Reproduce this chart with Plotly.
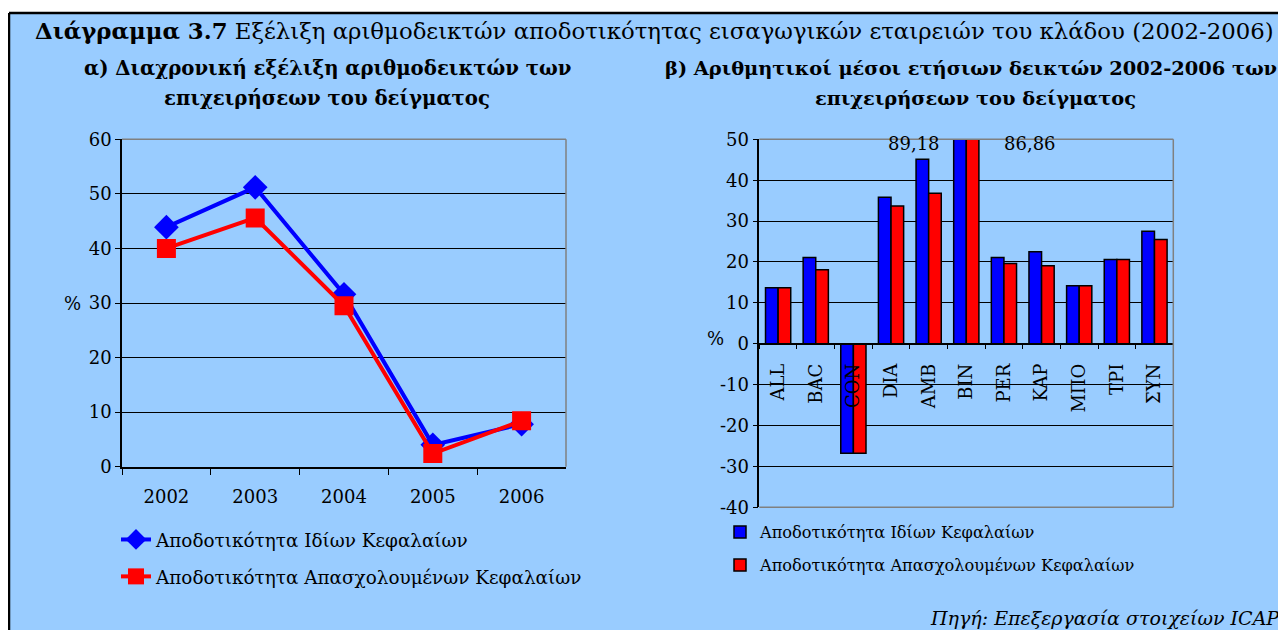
import plotly.graph_objects as go

# ---------- data ----------
years = ["2002", "2003", "2004", "2005", "2006"]
roe_years = [43.9, 51.2, 31.6, 4.0, 7.8]
roce_years = [40.0, 45.6, 29.5, 2.4, 8.4]

companies = ["ALL", "BAC", "CON", "DIA", "AMB", "BIN", "PER", "KAP", "ΜΠΟ", "ΤΡΙ", "ΣΥΝ"]
roe_avg = [13.7, 21.1, -26.8, 35.8, 45.1, 89.18, 21.1, 22.5, 14.2, 20.6, 27.5]
roce_avg = [13.7, 18.1, -26.8, 33.7, 36.8, 86.86, 19.6, 19.1, 14.2, 20.6, 25.5]

left_ticks = [0, 10, 20, 30, 40, 50, 60]
right_ticks = [-40, -30, -20, -10, 0, 10, 20, 30, 40, 50]
right_tick_text = ["-40", "-30", "-20", "-10", "0", "10", "20", "30", "40", "50"]

name_roe = "Αποδοτικότητα Ιδίων Κεφαλαίων"
name_roce = "Αποδοτικότητα Απασχολουμένων Κεφαλαίων"

# page body has an 8px margin: figure is sized to fill the rest of the window
OFF = 8
W, H = 1286 - OFF, 630 - OFF
FONT = "DejaVu Serif"
BG = "#99CCFF"
PLOT_BG = "#C0C0C0"
BLUE = "#0000FF"
RED = "#FF0000"


def px(x):
    return (x - OFF) / W


def py(y):
    return 1 - (y - OFF) / H


fig = go.Figure()

# ---------- left chart: lines ----------
fig.add_trace(go.Scatter(
    x=years, y=roe_years, name=name_roe, mode="lines+markers",
    line=dict(color=BLUE, width=4),
    marker=dict(symbol="diamond", size=19, color=BLUE),
    xaxis="x", yaxis="y", legend="legend", legendgroup="a1",
))
fig.add_trace(go.Scatter(
    x=years, y=roce_years, name=name_roce, mode="lines+markers",
    line=dict(color=RED, width=4),
    marker=dict(symbol="square", size=19, color=RED),
    xaxis="x", yaxis="y", legend="legend", legendgroup="a2",
))

# ---------- right chart: bars ----------
fig.add_trace(go.Bar(
    x=companies, y=roe_avg, name=name_roe,
    marker=dict(color=BLUE, line=dict(color="black", width=1.5)),
    xaxis="x2", yaxis="y2", legend="legend2", legendgroup="b1",
))
fig.add_trace(go.Bar(
    x=companies, y=roce_avg, name=name_roce,
    marker=dict(color=RED, line=dict(color="black", width=1.5)),
    xaxis="x2", yaxis="y2", legend="legend2", legendgroup="b2",
))

# axis domains (pixel measured on the reference)
lx0, lx1, ly_top, ly_bot = 122, 566, 139.3, 466.7
rx0, rx1, ry_top, ry_bot = 759.3, 1173.3, 139.3, 507.3
r_zero = ry_top + (ry_bot - ry_top) * 50 / 90

tickfont = dict(family=FONT, size=18, color="black")

fig.update_layout(
    template="none",
    width=W, height=H,
    margin=dict(l=0, r=0, t=0, b=0, autoexpand=False),
    paper_bgcolor="white",
    plot_bgcolor=PLOT_BG,
    font=dict(family=FONT, color="black"),
    barmode="group", bargap=0.33, bargroupgap=0,
    showlegend=True,
    xaxis=dict(
        domain=[px(lx0), px(lx1)], anchor="y", type="category", automargin=False,
        tickson="boundaries", ticks="outside", ticklen=7, tickcolor="black",
        showline=True, linecolor="black", linewidth=1.5,
        showgrid=False, tickfont=tickfont, ticklabelstandoff=13,
        range=[-0.5, 4.5],
    ),
    yaxis=dict(
        domain=[py(ly_bot), py(ly_top)], anchor="x", automargin=False,
        range=[0, 60], tickvals=left_ticks,
        ticks="outside", ticklen=5, tickcolor="black",
        showline=True, linecolor="black", linewidth=1.5,
        showgrid=True, gridcolor="black", gridwidth=1,
        zeroline=False, tickfont=tickfont,
    ),
    xaxis2=dict(
        domain=[px(rx0), px(rx1)], anchor="free", position=py(r_zero), automargin=False,
        type="category", tickson="boundaries", ticks="outside", ticklen=5,
        tickcolor="black", showline=True, linecolor="black", linewidth=1.5,
        showgrid=False, tickangle=-90, tickfont=tickfont, ticklabelstandoff=12,
        range=[-0.5, 10.5],
    ),
    yaxis2=dict(
        domain=[py(ry_bot), py(ry_top)], anchor="x2", automargin=False,
        range=[-40, 50], tickvals=right_ticks, ticktext=right_tick_text,
        ticks="outside", ticklen=5, tickcolor="black",
        showline=True, linecolor="black", linewidth=1.5,
        showgrid=True, gridcolor="black", gridwidth=1,
        zeroline=False, tickfont=tickfont,
    ),
    legend=dict(
        x=px(116), y=py(521), xanchor="left", yanchor="top",
        bgcolor="rgba(0,0,0,0)", font=dict(family=FONT, size=18.4, color="black"),
        traceorder="grouped", tracegroupgap=10,
    ),
    legend2=dict(
        x=px(720), y=py(515), xanchor="left", yanchor="top",
        bgcolor="rgba(0,0,0,0)", font=dict(family=FONT, size=16.2, color="black"),
        traceorder="grouped", tracegroupgap=9,
    ),
)

# ---------- background panel & borders ----------
shapes = [
    dict(type="rect", xref="paper", yref="paper", x0=px(9), x1=px(1283), y0=py(640), y1=py(13),
         fillcolor=BG, line=dict(width=0), layer="below"),
    dict(type="line", xref="paper", yref="paper", x0=px(9), x1=px(9), y0=py(640), y1=py(13),
         line=dict(color="black", width=2.5)),
    dict(type="line", xref="paper", yref="paper", x0=px(9), x1=px(1290), y0=py(13), y1=py(13),
         line=dict(color="black", width=2.5)),
    # gray plot borders
    dict(type="line", xref="paper", yref="paper", x0=px(lx0), x1=px(lx1), y0=py(ly_top), y1=py(ly_top),
         line=dict(color="#808080", width=1.5)),
    dict(type="line", xref="paper", yref="paper", x0=px(lx1), x1=px(lx1), y0=py(ly_top), y1=py(ly_bot),
         line=dict(color="#808080", width=1.5)),
    dict(type="line", xref="paper", yref="paper", x0=px(rx0), x1=px(rx1), y0=py(ry_top), y1=py(ry_top),
         line=dict(color="#808080", width=1.5)),
    dict(type="line", xref="paper", yref="paper", x0=px(rx1), x1=px(rx1), y0=py(ry_top), y1=py(ry_bot),
         line=dict(color="#808080", width=1.5)),
    dict(type="line", xref="paper", yref="paper", x0=px(rx0), x1=px(rx1), y0=py(ry_bot), y1=py(ry_bot),
         line=dict(color="#808080", width=1.5)),
]
fig.update_layout(shapes=shapes)

# ---------- texts ----------
ann = []


def paper_text(text, x, y, size, xanchor="center"):
    ann.append(dict(
        text=text, x=px(x), y=py(y), xref="paper", yref="paper",
        xanchor=xanchor, yanchor="middle", showarrow=False,
        font=dict(family=FONT, size=size, color="black"),
    ))


paper_text("<b>Διάγραμμα 3.7</b> Εξέλιξη αριθμοδεικτών αποδοτικότητας εισαγωγικών εταιρειών του κλάδου (2002-2006)",
           33, 31, 22.8, xanchor="left")
paper_text("<b>α) Διαχρονική εξέλιξη αριθμοδεικτών των</b>", 327, 68, 19.7)
paper_text("<b>επιχειρήσεων του δείγματος</b>", 327, 99, 19.7)
paper_text("<b>β) Αριθμητικοί μέσοι ετήσιων δεικτών 2002-2006 των</b>", 971, 68, 19.4)
paper_text("<b>επιχειρήσεων του δείγματος</b>", 975, 98, 19.4)
paper_text("%", 72, 303, 18)
paper_text("%", 715, 338, 18)
paper_text("<i>Πηγή: Επεξεργασία στοιχείων ICAP</i>", 1282, 618, 19, xanchor="right")

# value labels for clipped BIN bars
ann.append(dict(
    text=f"{roe_avg[5]:.2f}".replace(".", ","), x=companies[5], y=49, xref="x2", yref="y2",
    xshift=-52, xanchor="center", yanchor="middle", showarrow=False,
    font=dict(family=FONT, size=18, color="black"),
))
ann.append(dict(
    text=f"{roce_avg[5]:.2f}".replace(".", ","), x=companies[5], y=49, xref="x2", yref="y2",
    xshift=64, xanchor="center", yanchor="middle", showarrow=False,
    font=dict(family=FONT, size=18, color="black"),
))
fig.update_layout(annotations=ann)

fig.write_html("out.html")
